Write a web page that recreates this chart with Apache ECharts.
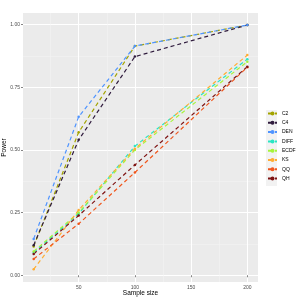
<!DOCTYPE html>
<html><head><meta charset="utf-8">
<script src="https://cdn.jsdelivr.net/npm/echarts@6/dist/echarts.min.js"></script>
<style>html,body{margin:0;padding:0;background:#fff}#c{width:300px;height:300px}</style>
</head><body><div id="c"></div>
<script>
const sampleSizes = [10, 50, 100, 200];
const seriesNames = ['C2','C4','DEN','DIFF','ECDF','KS','QQ','QH'];
const C2   = [0.115, 0.570, 0.914, 0.998];
const C4   = [0.120, 0.540, 0.872, 0.998];
const DEN  = [0.145, 0.632, 0.914, 0.998];
const DIFF = [0.090, 0.245, 0.515, 0.862];
const ECDF = [0.095, 0.250, 0.500, 0.852];
const KS   = [0.024, 0.260, 0.505, 0.878];
const QQ   = [0.065, 0.205, 0.410, 0.830];
const QH   = [0.085, 0.238, 0.440, 0.832];
const xMajor = [50, 100, 150, 200];
const xMinor = [25, 75, 125, 175];
const yMajor = [0, 0.25, 0.5, 0.75, 1.0];
const yMinor = [0.125, 0.375, 0.625, 0.875];
const yLabels = ['0.00','0.25','0.50','0.75','1.00'];

const values = {C2, C4, DEN, DIFF, ECDF, KS, QQ, QH};
const colors = {C2:'#a3a300', C4:'#301c3e', DEN:'#4f94ff', DIFF:'#2ae6c4', ECDF:'#a6f53c', KS:'#ffad33', QQ:'#f0561c', QH:'#7e1414'};

const font = 'Liberation Sans, Arial, sans-serif';
const xMin = 0.5, xMax = 209.5, yMin = -0.027, yMax = 1.046;

const chart = echarts.init(document.getElementById('c'), null, {renderer:'canvas'});
const series = seriesNames.map(n => ({
  name: n, type: 'line', xAxisIndex: 0, yAxisIndex: 0,
  data: sampleSizes.map((s, i) => [s, values[n][i]]),
  symbol: 'circle', symbolSize: 2.5, showSymbol: true,
  itemStyle: {color: colors[n]},
  lineStyle: {color: colors[n], width: 1.2, type: [4, 3]},
  emphasis: {disabled: true}, animation: false
}));

chart.setOption({
  animation: false,
  grid: {left: 23, right: 42, top: 13, bottom: 18, show: true, backgroundColor: '#ebebeb', borderWidth: 0,
         containLabel: false, outerBoundsMode: 'none'},
  xAxis: [
    {type: 'value', min: xMin, max: xMax,
     axisLine: {show: false},
     axisTick: {show: true, customValues: xMajor, length: 2, lineStyle: {color: '#333', width: 0.6}},
     axisLabel: {customValues: xMajor, fontSize: 5, color: '#4d4d4d', fontFamily: font, margin: 3},
     splitLine: {show: true, lineStyle: {color: '#ffffff', width: 1}},
     name: 'Sample size', nameLocation: 'middle', nameGap: 8, nameMoveOverlap: false,
     nameTextStyle: {fontSize: 6.5, color: '#000', fontFamily: font}},
    {type: 'value', min: xMin, max: xMax, position: 'bottom',
     axisLine: {show: false}, axisLabel: {show: false},
     axisTick: {show: false, customValues: xMinor},
     splitLine: {show: true, lineStyle: {color: '#f5f5f5', width: 0.5}}}
  ],
  yAxis: [
    {type: 'value', min: yMin, max: yMax,
     axisLine: {show: false},
     axisTick: {show: true, customValues: yMajor, length: 2, lineStyle: {color: '#333', width: 0.6}},
     axisLabel: {customValues: yMajor, fontSize: 5, color: '#4d4d4d', fontFamily: font, margin: 3,
       formatter: v => yLabels[yMajor.findIndex(t => Math.abs(t - v) < 1e-6)] ?? ''},
     splitLine: {show: true, lineStyle: {color: '#ffffff', width: 1}},
     name: 'Power', nameLocation: 'middle', nameGap: 15, nameRotate: 90, nameMoveOverlap: false,
     nameTextStyle: {fontSize: 6.5, color: '#000', fontFamily: font}},
    {type: 'value', min: yMin, max: yMax,
     axisLine: {show: false}, axisLabel: {show: false},
     axisTick: {show: false, customValues: yMinor},
     splitLine: {show: true, lineStyle: {color: '#f5f5f5', width: 0.5}}}
  ],
  graphic: [{type: 'rect', shape: {x: 266, y: 110, width: 11, height: 76}, style: {fill: '#f2f2f2'}, z: -1}],
  legend: {
    orient: 'vertical', left: 267, top: 111, itemWidth: 9, itemHeight: 5, itemGap: 4.3,
    padding: 0,
    textStyle: {fontSize: 5, color: '#000', fontFamily: font, padding: [0, 0, 0, 0]},
    data: seriesNames
  },
  series: series
});
</script></body></html>
